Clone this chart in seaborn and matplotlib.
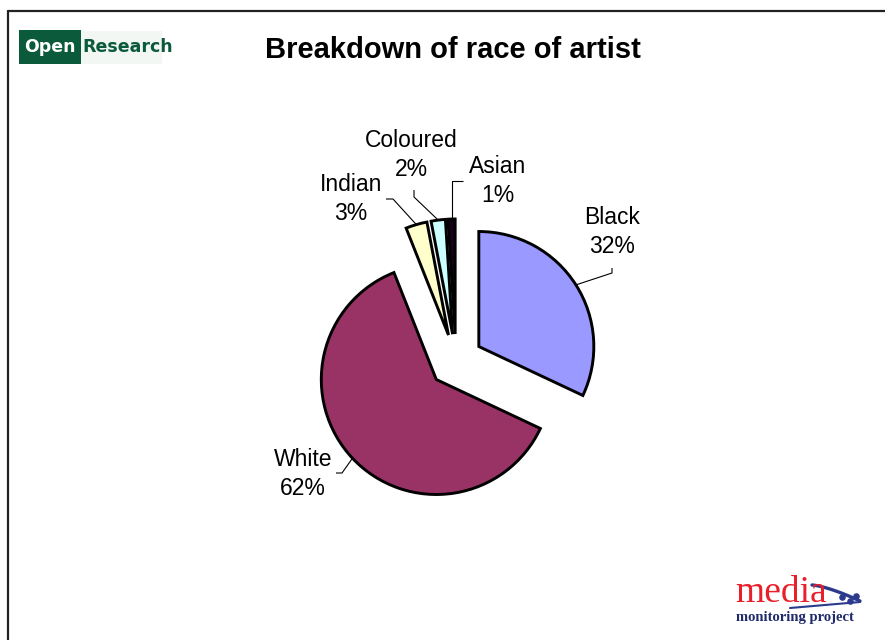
import numpy as np
import matplotlib
matplotlib.use("Agg")
import matplotlib.pyplot as plt
from matplotlib.patches import Rectangle
from matplotlib.lines import Line2D
import seaborn as sns

# Race of artist shares (%)
races = ["Black", "White", "Indian", "Coloured", "Asian"]
shares = [32, 62, 3, 2, 1]
colours = ["#9999FF", "#993366", "#FFFFCC", "#CCFFFF", "#1A001A"]

title = "Breakdown of race of artist"

sns.set_theme(style="white")
plt.rcParams["font.family"] = ["Liberation Sans", "DejaVu Sans"]

W, H = 885, 640
fig = plt.figure(figsize=(W / 100, H / 100), dpi=100)
fig.patch.set_facecolor("white")
ax = fig.add_axes([0, 0, 1, 1])


def Y(y):
    # top-down pixel row to axis y
    return H - y


radius = 115
center = (456, Y(361))
# every slice pulled out from the centre by the same distance
pull = 0.235 * radius
wedges, _ = ax.pie(
    shares,
    colors=colours,
    explode=[pull] * len(shares),
    startangle=90,
    counterclock=False,
    radius=radius,
    center=center,
    wedgeprops=dict(edgecolor="black", linewidth=2.1),
)

ax.set_xlim(0, W)
ax.set_ylim(0, H)
ax.set_aspect("equal")
ax.axis("off")

# label layout: text centre, leader elbow, leader end (pixel rows top-down)
layout = {
    "Black":    ((612, 232), (612, 273), (612, 268)),
    "White":    ((303, 474), (342, 473), (336, 473)),
    "Indian":   ((351, 199), (393, 199), (386, 199)),
    "Coloured": ((411, 155), (414, 197), (414, 190)),
    "Asian":    ((498, 181), (457, 181), (463, 181)),
}

for w, name, val in zip(wedges, races, shares):
    th = np.deg2rad((w.theta1 + w.theta2) / 2)
    cx, cy = w.center
    ax_x = cx + w.r * np.cos(th)
    ax_y = cy + w.r * np.sin(th)
    (tx, ty), (ex, ey), (fx, fy) = layout[name]
    if name == "Asian":
        ex = ax_x
    ax.plot([ax_x, ex, fx], [ax_y, Y(ey), Y(fy)], color="black", lw=0.8,
            solid_capstyle="butt", zorder=1)
    ax.text(tx, Y(ty), f"{name}\n{val}%", ha="center", va="center",
            fontsize=16.5, linespacing=1.3, color="black")

# title
ax.text(453, Y(50), title, ha="center", va="center", fontsize=21,
        fontweight="bold", color="black")

# frame lines (top and left)
ax.add_line(Line2D([8, 8], [Y(11), 0], color="#222222", lw=1.6))
ax.add_line(Line2D([8, W], [Y(11), Y(11)], color="#222222", lw=1.6))

# OpenResearch badge
ax.add_patch(Rectangle((80, Y(64)), 82, 33, facecolor="#F2F7F4",
                       edgecolor="none"))
ax.add_patch(Rectangle((19, Y(64)), 62, 34, facecolor="#0B5A3C",
                       edgecolor="none"))
ax.text(50, Y(47), "Open", ha="center", va="center", fontsize=12.5,
        fontweight="bold", color="white", family="DejaVu Sans Condensed")
ax.text(82, Y(47), "Research", ha="left", va="center", fontsize=12.5,
        fontweight="bold", color="#0B5A3C", family="DejaVu Sans Condensed")

# media monitoring project mark
ax.text(735, Y(593), "media", ha="left", va="center", fontsize=27,
        color="#E8202A", family="Liberation Serif")
ax.text(736, Y(618), "monitoring project", ha="left", va="center",
        fontsize=10.5, fontweight="bold", color="#1F2A6B",
        family="Liberation Serif")
t = np.linspace(0, 1, 40)
ax.plot(812 + 48 * t, Y(585 + 16 * t ** 1.4), color="#2B3A8C", lw=2.4)
ax.plot(790 + 70 * t, Y(608 - 6 * t), color="#2B3A8C", lw=1.5)
ax.scatter([842, 850, 856], [Y(597), Y(601), Y(596)], s=14,
           color="#2B3A8C", zorder=3)

fig.savefig("out.png", dpi=100, facecolor="white")
